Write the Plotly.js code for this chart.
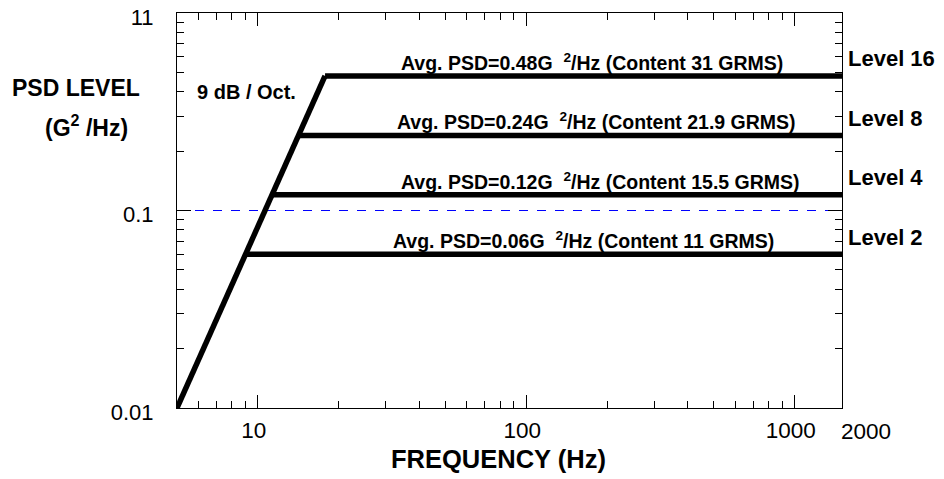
<!DOCTYPE html>
<html>
<head>
<meta charset="utf-8">
<script src="https://cdn.plot.ly/plotly-3.0.1.min.js"></script>
<style>html,body{margin:0;padding:0;background:#fff;}</style>
</head>
<body>
<div id="chart" style="width:944px;height:479px;"></div>
<script>
// ---- data ----
const rampFreq = [5, 17.8];
const rampPsd = [0.01, 0.48];
const levelNames = ['Level 2', 'Level 4', 'Level 8', 'Level 16'];
const levelPsd = [0.06, 0.12, 0.24, 0.48];
const levelPsdText = ['0.06', '0.12', '0.24', '0.48'];
const levelGrms = ['11', '15.5', '21.9', '31'];
const levelStartFreq = [9.0, 11.3, 14.2, 17.8];
const levelEndFreq = [2000, 2000, 2000, 2000];
const xTickVals = [10, 100, 1000];
const xTickText = ['10', '100', '1000'];
const yTickVals = [0.01, 0.1, 1];
const yTickText = ['0.01', '0.1', '11'];

// ---- layout helpers ----
const PL = 177, PR = 842, PT = 13, PB = 408;
const px2x = p => (p - PL) / (PR - PL);
const py2y = p => (PB - p) / (PB - PT);
const FONT = 'Liberation Sans, Arial, Helvetica, sans-serif';
const textCenterPx = [583, 600, 596, 592];

const traces = [{
  x: rampFreq, y: rampPsd, mode: 'lines', type: 'scatter',
  line: {color: '#000', width: 5.5}, hoverinfo: 'skip'
}];
levelPsd.forEach((v, i) => {
  traces.push({
    x: [levelStartFreq[i], levelEndFreq[i]], y: [v, v], mode: 'lines', type: 'scatter',
    line: {color: '#000', width: 5.5}, hoverinfo: 'skip'
  });
});

const annotations = [];
levelPsd.forEach((v, i) => {
  annotations.push({
    xref: 'paper', yref: 'y', x: px2x(textCenterPx[i]), y: Math.log10(v), yshift: 14,
    xanchor: 'center', yanchor: 'middle', showarrow: false,
    text: '<b>Avg. PSD=' + levelPsdText[i] + 'G  <sup>2</sup>/Hz (Content ' + levelGrms[i] + ' GRMS)</b>',
    font: {family: FONT, size: 19.5, color: '#000'}
  });
  annotations.push({
    xref: 'paper', yref: 'y', x: px2x(846), y: Math.log10(v), yshift: 17,
    xanchor: 'left', yanchor: 'middle', showarrow: false,
    text: '<b>' + levelNames[i] + '</b>',
    font: {family: FONT, size: 22, color: '#000'}
  });
});
annotations.push(
  {xref: 'paper', yref: 'paper', x: px2x(246), y: py2y(92), xanchor: 'center', yanchor: 'middle',
   showarrow: false, text: '<b>9 dB / Oct.</b>', font: {family: FONT, size: 20, color: '#000'}},
  {xref: 'paper', yref: 'paper', x: px2x(76), y: py2y(88), xanchor: 'center', yanchor: 'middle',
   showarrow: false, text: '<b>PSD LEVEL</b>', font: {family: FONT, size: 23, color: '#000'}},
  {xref: 'paper', yref: 'paper', x: px2x(86), y: py2y(126), xanchor: 'center', yanchor: 'middle',
   showarrow: false, text: '<b>(G<sup>2</sup> /Hz)</b>', font: {family: FONT, size: 23, color: '#000'}},
  {xref: 'paper', yref: 'paper', x: px2x(498), y: py2y(459), xanchor: 'center', yanchor: 'middle',
   showarrow: false, text: '<b>FREQUENCY (Hz)</b>', font: {family: FONT, size: 25.5, color: '#000'}},
  {xref: 'paper', yref: 'paper', x: px2x(866), y: py2y(431), xanchor: 'center', yanchor: 'middle',
   showarrow: false, text: '2000', font: {family: FONT, size: 22.5, color: '#000'}}
);

const layout = {
  width: 944, height: 479,
  margin: {l: PL, r: 944 - PR, t: PT, b: 479 - PB, pad: 0},
  paper_bgcolor: '#fff', plot_bgcolor: '#fff',
  showlegend: false,
  font: {family: FONT, color: '#000'},
  xaxis: {
    type: 'log', range: [Math.log10(5), Math.log10(1500)],
    tickmode: 'array', tickvals: xTickVals, ticktext: xTickText,
    ticks: 'inside', ticklen: 13, tickwidth: 1, tickcolor: '#000',
    showline: true, linecolor: '#000', linewidth: 1, mirror: 'allticks',
    showgrid: false, zeroline: false,
    tickfont: {family: FONT, size: 22.5, color: '#000'},
    ticklabelshift: -4, ticklabelstandoff: 2,
    minor: {ticks: 'inside', ticklen: 7, tickwidth: 1, tickcolor: '#000', dtick: 'D1', showgrid: false}
  },
  yaxis: {
    type: 'log', range: [-2, 0],
    tickmode: 'array', tickvals: yTickVals, ticktext: yTickText,
    ticks: 'inside', ticklen: 14, tickwidth: 1, tickcolor: '#000',
    showline: true, linecolor: '#000', linewidth: 1, mirror: 'allticks',
    showgrid: true, gridcolor: '#0000ff', gridwidth: 1, griddash: 'dash',
    zeroline: false,
    tickfont: {family: FONT, size: 22, color: '#000'},
    ticklabelshift: 4, ticklabelstandoff: 18, ticklabeloverflow: 'allow',
    minor: {ticks: 'inside', ticklen: 7, tickwidth: 1, tickcolor: '#000', dtick: 'D1', showgrid: false}
  },
  annotations: annotations
};

Plotly.newPlot('chart', traces, layout, {staticPlot: true, displayModeBar: false});
</script>
</body>
</html>
